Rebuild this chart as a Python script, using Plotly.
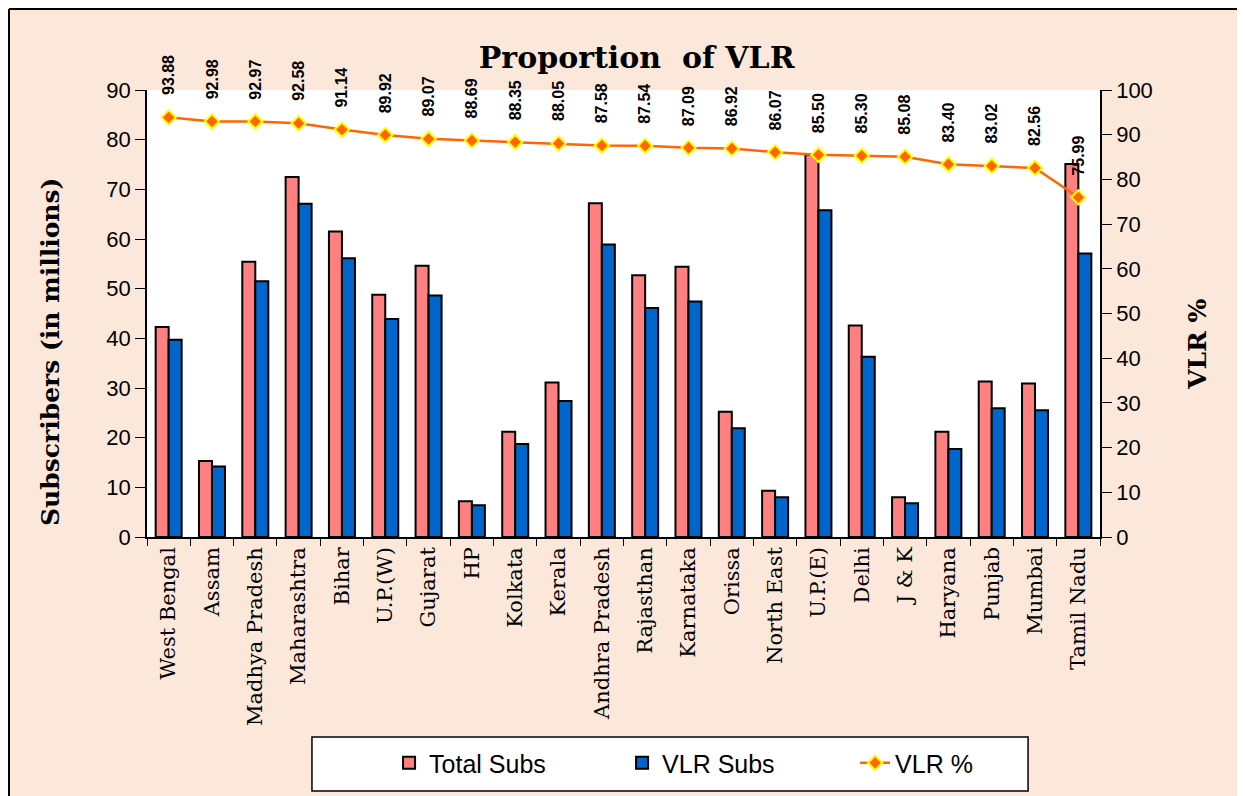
import plotly.graph_objects as go

categories = ["West Bengal", "Assam", "Madhya Pradesh", "Maharashtra", "Bihar", "U.P.(W)",
              "Gujarat", "HP", "Kolkata", "Kerala", "Andhra Pradesh", "Rajasthan", "Karnataka",
              "Orissa", "North East", "U.P.(E)", "Delhi", "J & K", "Haryana", "Punjab",
              "Mumbai", "Tamil Nadu"]
total_subs = [42.3, 15.3, 55.4, 72.5, 61.5, 48.8, 54.6, 7.2, 21.2, 31.1, 67.2, 52.7, 54.4,
              25.2, 9.3, 77.0, 42.6, 8.0, 21.2, 31.3, 30.9, 75.1]
vlr_subs = [39.7, 14.2, 51.5, 67.1, 56.1, 43.9, 48.6, 6.4, 18.7, 27.4, 58.9, 46.1, 47.4,
            21.9, 8.0, 65.8, 36.3, 6.8, 17.7, 25.9, 25.5, 57.1]
vlr_pct = [93.88, 92.98, 92.97, 92.58, 91.14, 89.92, 89.07, 88.69, 88.35, 88.05, 87.58,
           87.54, 87.09, 86.92, 86.07, 85.50, 85.30, 85.08, 83.40, 83.02, 82.56, 75.99]

PEACH = "#FCE8DA"
fig = go.Figure()
fig.add_trace(go.Bar(x=categories, y=total_subs, name="Total Subs",
                     marker=dict(color="#FF8080", line=dict(color="black", width=2))))
fig.add_trace(go.Bar(x=categories, y=vlr_subs, name="VLR Subs",
                     marker=dict(color="#0066CC", line=dict(color="black", width=2))))
fig.add_trace(go.Scatter(x=categories, y=vlr_pct, name="VLR %", yaxis="y2", mode="lines+markers",
                         line=dict(color="#FF6600", width=2.5),
                         marker=dict(symbol="diamond", size=11, color="#FF6600",
                                     line=dict(color="#FFFF00", width=2))))

for c, v in zip(categories, vlr_pct):
    fig.add_annotation(x=c, y=v, xref="x", yref="y2", text=f"{v:.2f}", showarrow=False,
                       textangle=-90, yanchor="bottom", yshift=20,
                       font=dict(family="Liberation Sans", size=16, color="black", weight="bold"))

# axis titles
fig.add_annotation(x=-0.1007, y=0.414, xref="paper", yref="paper", showarrow=False,
                   text="<b>Subscribers (in millions)</b>", textangle=-90,
                   xanchor="center", yanchor="middle",
                   font=dict(family="DejaVu Serif", size=25, color="black"))
fig.add_annotation(x=1.1028, y=0.432, xref="paper", yref="paper", showarrow=False,
                   text="<b>VLR %</b>", textangle=-90, xanchor="center", yanchor="middle",
                   font=dict(family="DejaVu Serif", size=25, color="black"))

# outer frame (top and left edges) and legend box
fig.add_shape(type="line", xref="paper", yref="paper", x0=-0.1448, x1=1.2, y0=1.181, y1=1.181,
              line=dict(color="black", width=2))
fig.add_shape(type="line", xref="paper", yref="paper", x0=-0.1448, x1=-0.1448, y0=-0.7, y1=1.181,
              line=dict(color="black", width=2))
fig.add_shape(type="rect", xref="paper", yref="paper", x0=0.1731, x1=0.9245, y0=-0.5682, y1=-0.4474,
              line=dict(color="black", width=1.5), fillcolor="white", layer="below")

fig.update_layout(
    width=1245, height=796,
    paper_bgcolor=PEACH, plot_bgcolor="white",
    margin=dict(l=139, r=153, t=82, b=267, autoexpand=False),
    barmode="group", bargap=0.4, bargroupgap=0,
    title=dict(text="<b>Proportion  of VLR</b>", x=0.505, xanchor="center", y=0.938, yanchor="middle",
               font=dict(family="DejaVu Serif", size=30, color="black")),
    xaxis=dict(range=[-0.5, len(categories) - 0.5], tickangle=-90, tickson="boundaries",
               ticks="outside", ticklen=7, tickcolor="black",
               showline=True, linecolor="black", linewidth=1.5, automargin=False,
               tickfont=dict(family="DejaVu Serif", size=21, color="black")),
    yaxis=dict(range=[0, 90], dtick=10, ticks="outside", ticklen=10, tickcolor="black",
               showline=True, linecolor="black", linewidth=1.5, showgrid=False, zeroline=False,
               automargin=False,
               tickfont=dict(family="Liberation Sans", size=22, color="black")),
    yaxis2=dict(range=[0, 100], dtick=10, overlaying="y", side="right", ticks="outside", ticklen=10,
                tickcolor="black", showline=True, linecolor="black", linewidth=1.5, showgrid=False,
                zeroline=False, automargin=False,
                tickfont=dict(family="Liberation Sans", size=22, color="black")),
    legend=dict(orientation="h", x=0.254, xanchor="left", y=-0.5056, yanchor="middle",
                bgcolor="rgba(0,0,0,0)", borderwidth=0,
                entrywidth=188, entrywidthmode="pixels",
                font=dict(family="Liberation Sans", size=25, color="black")),
    showlegend=True,
)

fig.write_html("out.html")
